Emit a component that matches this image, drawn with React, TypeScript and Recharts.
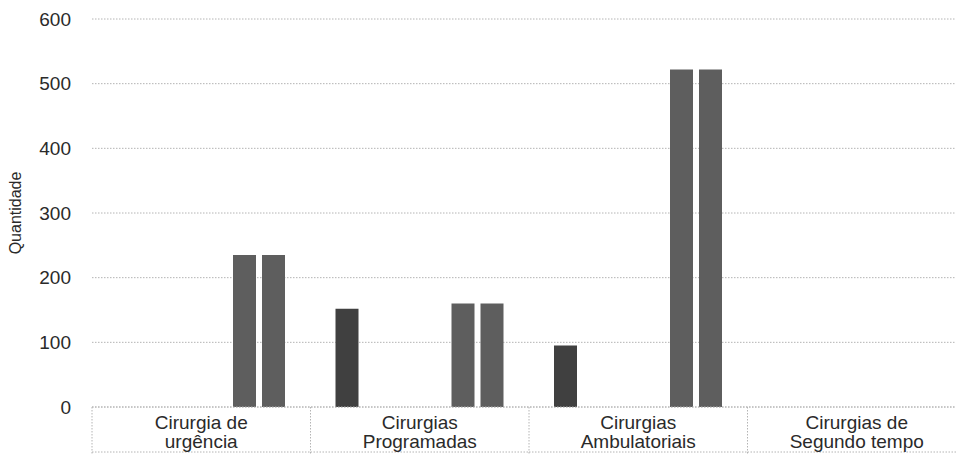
import { BarChart, Bar, XAxis, YAxis, CartesianGrid } from "recharts";

// categories and their two-line tick labels
const categories = [
  "Cirurgia de urgência",
  "Cirurgias Programadas",
  "Cirurgias Ambulatoriais",
  "Cirurgias de Segundo tempo",
];
const categoryLines = [
  ["Cirurgia de", "urgência"],
  ["Cirurgias", "Programadas"],
  ["Cirurgias", "Ambulatoriais"],
  ["Cirurgias de", "Segundo tempo"],
];

// six series per category, three of them empty in the picture
const serie1 = [0, 152, 95, 0];
const serie2 = [0, 0, 0, 0];
const serie3 = [0, 0, 0, 0];
const serie4 = [0, 0, 0, 0];
const serie5 = [235, 160, 522, 0];
const serie6 = [235, 160, 522, 0];

const yTicks = [0, 100, 200, 300, 400, 500, 600];

const data = categories.map((name, i) => ({
  name,
  s1: serie1[i],
  s2: serie2[i],
  s3: serie3[i],
  s4: serie4[i],
  s5: serie5[i],
  s6: serie6[i],
}));

const CHART_W = 990;
const CHART_H = 455;
const Y_AXIS_W = 92;
const MARGIN_RIGHT = 24;
const BAND = (CHART_W - Y_AXIS_W - MARGIN_RIGHT) / categories.length;
const FONT = '"Liberation Sans", Arial, sans-serif';
const DOT = "#b4b4b4";
const INK = "#2a2a2a";

function CategoryTick(props: any) {
  const { x, y, payload } = props;
  const idx = categories.indexOf(payload.value);
  const lines = categoryLines[idx] || [payload.value];
  const left = x - BAND / 2;
  const right = x + BAND / 2;
  return (
    <g>
      <line x1={left} y1={y} x2={left} y2={y + 60} stroke={DOT} strokeDasharray="1.5 1.5" />
      {idx === categories.length - 1 && (
        <line x1={right} y1={y} x2={right} y2={y + 60} stroke={DOT} strokeDasharray="1.5 1.5" />
      )}
      <line x1={left} y1={y + 45} x2={right} y2={y + 45} stroke={DOT} strokeDasharray="1.5 1.5" />
      {lines.map((t, i) => (
        <text
          key={i}
          x={x}
          y={y + 22 + i * 19}
          textAnchor="middle"
          fill={INK}
          fontSize={19}
          fontFamily={FONT}
        >
          {t}
        </text>
      ))}
    </g>
  );
}

export default function App() {
  return (
    <div
      style={{
        position: "absolute",
        left: 0,
        top: 0,
        width: 956,
        height: 455,
        overflow: "hidden",
        background: "#fff",
      }}
    >
      <BarChart
        width={CHART_W}
        height={CHART_H}
        data={data}
        margin={{ top: 19, right: MARGIN_RIGHT, bottom: 0, left: 0 }}
        barCategoryGap={25}
        barGap={6}
      >
        <CartesianGrid vertical={false} stroke={DOT} strokeDasharray="1.5 1.5" />
        <XAxis
          dataKey="name"
          height={48}
          tickLine={false}
          tickSize={0}
          tickMargin={0}
          interval={0}
          axisLine={{ stroke: DOT, strokeDasharray: "1.5 1.5" }}
          tick={<CategoryTick />}
        />
        <YAxis
          width={Y_AXIS_W}
          domain={[0, 600]}
          ticks={yTicks}
          axisLine={false}
          tickLine={false}
          tickSize={0}
          tickMargin={21}
          tick={{ fill: INK, fontSize: 19, fontFamily: FONT }}
          label={{
            value: "Quantidade",
            angle: -90,
            position: "insideLeft",
            offset: 15,
            fontSize: 16,
            fontFamily: FONT,
            fill: INK,
            style: { textAnchor: "middle", fill: INK, fontSize: 16, fontFamily: FONT },
          }}
        />
        <Bar dataKey="s1" fill="#404040" isAnimationActive={false} />
        <Bar dataKey="s2" fill="#404040" isAnimationActive={false} />
        <Bar dataKey="s3" fill="#404040" isAnimationActive={false} />
        <Bar dataKey="s4" fill="#404040" isAnimationActive={false} />
        <Bar dataKey="s5" fill="#5e5e5e" isAnimationActive={false} />
        <Bar dataKey="s6" fill="#5e5e5e" isAnimationActive={false} />
      </BarChart>
    </div>
  );
}
